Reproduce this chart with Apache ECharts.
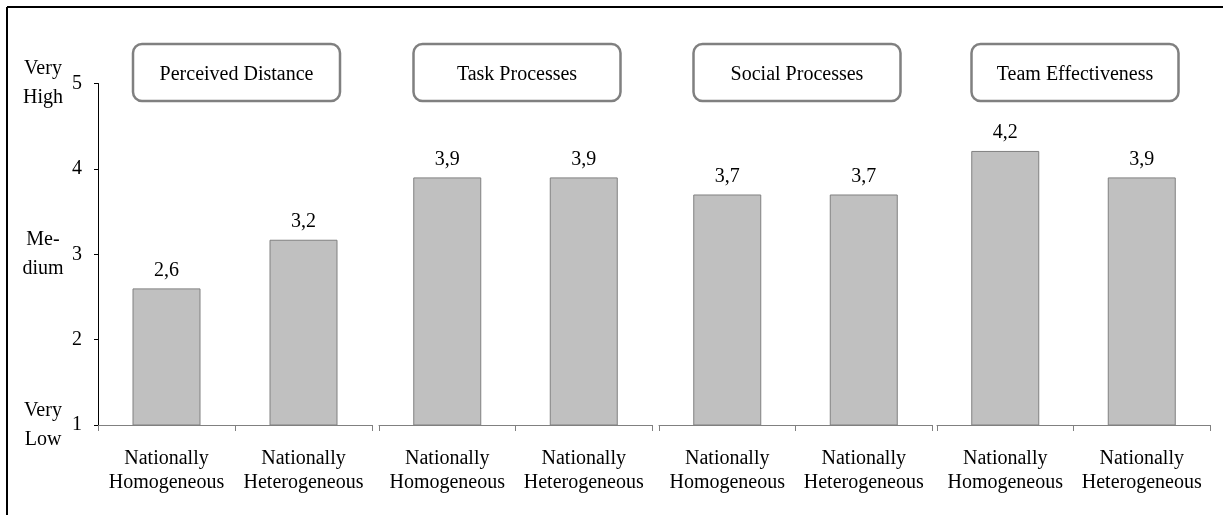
<!DOCTYPE html>
<html>
<head>
<meta charset="utf-8">
<script src="https://cdn.jsdelivr.net/npm/echarts@6/dist/echarts.min.js"></script>
<style>
html,body{margin:0;padding:0;background:#fff;}
#chart{width:1223px;height:515px;}
</style>
</head>
<body>
<div id="chart"></div>
<script>
// ---- data ----
const groups = ['Perceived Distance', 'Task Processes', 'Social Processes', 'Team Effectiveness'];
const categories = ['Nationally\nHomogeneous', 'Nationally\nHeterogeneous'];
const homogeneous = [2.6, 3.9, 3.7, 4.21];
const heterogeneous = [3.17, 3.9, 3.7, 3.9];
const yTicks = [1, 2, 3, 4, 5];
const yVerbalValues = [1, 3, 5];
const yVerbalLabels = ['Very\nLow', 'Me-\ndium', 'Very\nHigh'];

// ---- layout ----
const FONT = '"Liberation Serif", "Times New Roman", serif';
const panelLefts = [98, 379, 659, 937];
const panelWidths = [274, 273, 273, 273];
const gridTop = 83.5;
const gridBottom = 90;
const W = 1223, H = 515;

const chart = echarts.init(document.getElementById('chart'), null, {renderer: 'canvas'});

const grids = [], xAxes = [], yAxes = [], series = [], graphics = [];
groups.forEach((g, i) => {
  grids.push({left: panelLefts[i], width: panelWidths[i], top: gridTop, bottom: gridBottom, containLabel: false});
  xAxes.push({
    type: 'category', gridIndex: i, data: categories,
    axisLine: {show: true, lineStyle: {color: '#808080', width: 1}},
    axisTick: {show: true, length: 6, lineStyle: {color: '#808080'}},
    axisLabel: {interval: 0, color: '#000', fontFamily: FONT, fontSize: 20, lineHeight: 24, margin: 22}
  });
  yAxes.push({
    type: 'value', gridIndex: i, min: yTicks[0], max: yTicks[yTicks.length - 1], interval: 1,
    show: i === 0,
    axisLine: {show: true, lineStyle: {color: '#000', width: 1}},
    axisTick: {show: true, length: 4, lineStyle: {color: '#000'}},
    axisLabel: {color: '#000', fontFamily: FONT, fontSize: 20, margin: 16},
    splitLine: {show: false}
  });
  series.push({
    type: 'bar', xAxisIndex: i, yAxisIndex: i,
    data: [homogeneous[i], heterogeneous[i]],
    barWidth: 68,
    itemStyle: {color: '#c0c0c0', borderColor: '#808080', borderWidth: 1},
    label: {
      show: true, position: 'top', distance: 8,
      color: '#000', fontFamily: FONT, fontSize: 20,
      formatter: p => p.value.toFixed(1).replace('.', ',')
    },
    silent: true
  });
  // group title box, centered over its panel
  const bw = 207, bh = 57;
  const cx = panelLefts[i] + panelWidths[i] / 2 + 1.5;
  graphics.push({
    type: 'rect', shape: {x: cx - bw / 2, y: 44, width: bw, height: bh, r: 9},
    style: {fill: '#fff', stroke: '#808080', lineWidth: 2.5}, z: 10
  });
  graphics.push({
    type: 'text', x: cx, y: 44 + bh / 2 + 2, z: 11,
    style: {text: g, align: 'center', verticalAlign: 'middle', fill: '#000', font: '20px ' + FONT}
  });
});

// verbal scale labels on the first panel
yAxes.push({
  type: 'value', gridIndex: 0, min: yTicks[0], max: yTicks[yTicks.length - 1], interval: 1,
  position: 'left',
  axisLine: {show: false}, axisTick: {show: false}, splitLine: {show: false},
  axisLabel: {
    color: '#000', fontFamily: FONT, fontSize: 20, lineHeight: 29, margin: 55, align: 'center',
    padding: [5, 0, 0, 0],
    formatter: v => {
      const k = yVerbalValues.indexOf(v);
      return k >= 0 ? yVerbalLabels[k] : '';
    }
  }
});

// outer frame (top and left edges)
graphics.push({type: 'line', shape: {x1: 7, y1: 7, x2: W, y2: 7}, style: {stroke: '#000', lineWidth: 2}});
graphics.push({type: 'line', shape: {x1: 7, y1: 7, x2: 7, y2: H}, style: {stroke: '#000', lineWidth: 2}});

chart.setOption({
  animation: false,
  backgroundColor: '#fff',
  grid: grids,
  xAxis: xAxes,
  yAxis: yAxes,
  series: series,
  graphic: graphics
});
</script>
</body>
</html>
